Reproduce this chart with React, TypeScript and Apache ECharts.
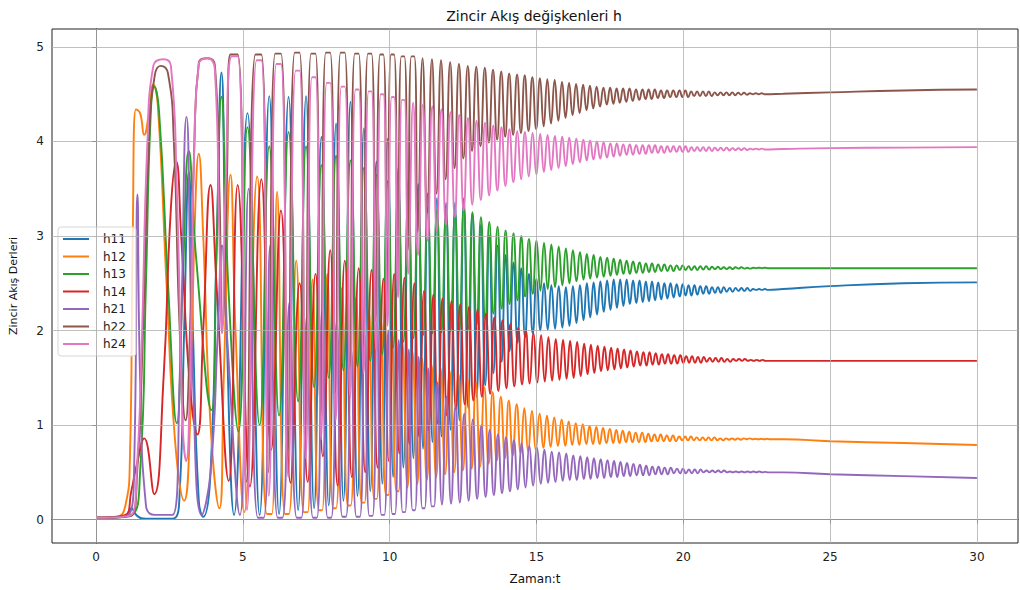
import React, { useEffect, useRef } from "react";
import * as echarts from "echarts";

const XTICKS = [0, 5, 10, 15, 20, 25, 30];
const YTICKS = [0, 1, 2, 3, 4, 5];
const NAMES = ["h11", "h12", "h13", "h14", "h21", "h22", "h24"];
const COLORS = ["#1f77b4", "#ff7f0e", "#2ca02c", "#d62728", "#9467bd", "#8c564b", "#e377c2"];

// times of the h22 oscillation peaks
const cycleT = [4.7, 5.53, 6.2, 6.85, 7.4, 7.9, 8.4, 8.88, 9.32, 9.73, 10.1, 10.45, 10.79, 11.12, 11.44, 11.75, 12.06, 12.36, 12.66, 12.95, 13.24, 13.52, 13.8, 14.07, 14.34, 14.6, 14.86, 15.12, 15.37, 15.62, 15.87, 16.11, 16.35, 16.59, 16.82, 17.05, 17.28, 17.51, 17.73, 17.95, 18.17, 18.39, 18.61, 18.82, 19.03, 19.24, 19.45, 19.66, 19.87, 20.07, 20.27, 20.47, 20.67, 20.87, 21.07, 21.27, 21.47, 21.67, 21.87, 22.07, 22.27, 22.47, 22.67, 22.87];

// start-up transients [t, value]
const h11Pre = [[0, 0.02], [1.0, 0.03], [1.2, 0.12], [1.4, 0.04], [1.7, 0.01], [2.6, 0.01], [2.85, 0.3], [3.0, 2.0], [3.16, 3.68], [3.3, 2.0], [3.5, 0.2], [3.65, 0.03], [3.9, 0.5], [4.1, 2.8], [4.27, 4.73], [4.45, 2.0], [4.7, 0.05]];
const h12Pre = [[0, 0.02], [0.7, 0.03], [1.0, 0.15], [1.15, 0.6], [1.25, 3.0], [1.36, 4.34], [1.5, 4.3], [1.64, 4.07], [1.8, 4.3], [1.95, 4.6], [2.1, 4.4], [2.4, 2.5], [2.7, 0.8], [3.0, 0.2], [3.2, 1.0], [3.35, 3.0], [3.5, 3.87], [3.65, 3.0], [3.9, 1.0], [4.2, 0.12], [4.35, 1.5], [4.58, 3.65], [4.75, 2.0], [5.05, 0.08]];
const h13Pre = [[0, 0.02], [1.2, 0.05], [1.5, 0.5], [1.7, 2.5], [1.85, 4.2], [1.98, 4.58], [2.15, 4.3], [2.45, 2.5], [2.75, 1.02], [2.95, 2.5], [3.16, 3.9], [3.4, 2.8], [3.93, 1.16], [4.1, 2.8], [4.27, 4.47], [4.5, 2.5], [4.85, 0.93]];
const h14Pre = [[0, 0.02], [1.0, 0.05], [1.2, 0.3], [1.4, 0.6], [1.64, 0.86], [1.98, 0.27], [2.3, 1.5], [2.55, 3.3], [2.73, 3.79], [2.9, 3.0], [3.2, 1.4], [3.45, 0.9], [3.65, 2.0], [3.9, 3.54], [4.1, 2.5], [4.52, 0.41]];
const h21Pre = [[0, 0.02], [1.1, 0.05], [1.3, 0.6], [1.41, 3.44], [1.5, 1.5], [1.7, 0.15], [2.0, 0.05], [2.6, 0.05], [2.85, 1.5], [3.08, 4.26], [3.3, 1.5], [3.6, 0.05], [3.9, 0.5], [4.15, 2.0], [4.29, 2.9], [4.45, 2.0], [4.9, 0.05]];
const h22Pre = [[0, 0.02], [1.2, 0.04], [1.4, 0.5], [1.6, 2.0], [1.8, 4.0], [2.0, 4.7], [2.2, 4.8], [2.45, 4.72], [2.65, 4.0], [2.85, 2.0], [3.05, 1.05], [3.2, 2.0], [3.35, 4.0], [3.5, 4.83], [3.8, 4.88], [4.05, 4.8], [4.2, 3.5], [4.3, 2.05], [4.45, 3.5]];
const h24Pre = [[0, 0.02], [1.2, 0.05], [1.4, 0.6], [1.55, 1.8], [1.75, 4.0], [1.95, 4.8], [2.3, 4.87], [2.55, 4.8], [2.75, 3.5], [2.95, 1.0], [3.07, 0.62], [3.2, 1.5], [3.35, 4.0], [3.5, 4.82], [3.8, 4.88], [4.05, 4.75], [4.2, 3.0], [4.29, 1.97], [4.42, 3.6]];

// peak / trough value of each cycle
const h11Hi = [4.3, 4.48, 4.47, 4.48, 4.05, 4.19, 4.42, 4.14, 3.79, 4.03, 3.72, 3.6, 3.55, 3.45, 3.4, 3.35, 3.35, 3.4, 3.25, 3.12, 3.0, 2.9, 2.8, 2.72, 2.66, 2.6, 2.55, 2.5, 2.48, 2.47, 2.46, 2.47, 2.48, 2.5, 2.51, 2.52, 2.53, 2.54, 2.54, 2.54, 2.53, 2.53, 2.52, 2.52, 2.51, 2.5, 2.5, 2.49, 2.49, 2.48, 2.48, 2.47, 2.47, 2.46, 2.46, 2.46, 2.45, 2.45, 2.45, 2.45, 2.44, 2.44, 2.44];
const h11Lo = [0.05, 0.06, 0.1, 0.12, 0.15, 0.2, 0.25, 0.3, 0.38, 0.45, 0.55, 0.65, 0.75, 0.82, 0.88, 0.95, 1.05, 1.18, 1.3, 1.42, 1.55, 1.67, 1.78, 1.87, 1.93, 1.97, 2.0, 2.01, 2.02, 2.03, 2.05, 2.08, 2.11, 2.14, 2.17, 2.2, 2.22, 2.24, 2.26, 2.28, 2.29, 2.3, 2.31, 2.32, 2.33, 2.34, 2.35, 2.36, 2.37, 2.37, 2.38, 2.39, 2.39, 2.4, 2.4, 2.41, 2.41, 2.42, 2.42, 2.42, 2.43, 2.43, 2.43];
const h12Hi = [3.63, 3.47, 2.74, 2.54, 2.6, 2.45, 2.35, 2.2, 2.1, 1.98, 1.88, 1.78, 1.7, 1.64, 1.6, 1.57, 1.54, 1.5, 1.45, 1.4, 1.35, 1.3, 1.26, 1.22, 1.18, 1.15, 1.12, 1.1, 1.08, 1.06, 1.04, 1.02, 1.01, 0.99, 0.98, 0.97, 0.96, 0.95, 0.94, 0.93, 0.92, 0.92, 0.91, 0.9, 0.9, 0.89, 0.89, 0.88, 0.88, 0.88, 0.87, 0.87, 0.87, 0.87, 0.86, 0.86, 0.86, 0.86, 0.86, 0.86, 0.855, 0.855, 0.855];
const h12Lo = [0.06, 0.06, 0.08, 0.1, 0.12, 0.15, 0.18, 0.22, 0.26, 0.3, 0.34, 0.38, 0.42, 0.45, 0.48, 0.5, 0.52, 0.54, 0.56, 0.59, 0.62, 0.65, 0.68, 0.7, 0.72, 0.74, 0.76, 0.77, 0.78, 0.78, 0.79, 0.79, 0.8, 0.8, 0.8, 0.81, 0.81, 0.81, 0.82, 0.82, 0.82, 0.82, 0.83, 0.83, 0.83, 0.83, 0.83, 0.84, 0.84, 0.84, 0.84, 0.84, 0.84, 0.84, 0.84, 0.845, 0.845, 0.845, 0.85, 0.85, 0.85, 0.85, 0.85];
const h13Hi = [4.15, 3.95, 4.1, 3.95, 3.75, 3.85, 3.8, 3.72, 3.65, 3.58, 3.5, 3.42, 3.35, 3.3, 3.27, 3.25, 3.25, 3.3, 3.25, 3.2, 3.15, 3.1, 3.06, 3.03, 3.0, 2.97, 2.95, 2.93, 2.91, 2.89, 2.87, 2.85, 2.83, 2.81, 2.8, 2.78, 2.77, 2.76, 2.75, 2.74, 2.73, 2.72, 2.71, 2.71, 2.7, 2.7, 2.69, 2.69, 2.69, 2.68, 2.68, 2.68, 2.68, 2.675, 2.675, 2.67, 2.67, 2.67, 2.67, 2.665, 2.665, 2.665, 2.665];
const h13Lo = [1.0, 1.1, 1.25, 1.4, 1.5, 1.58, 1.62, 1.68, 1.75, 1.82, 1.88, 1.92, 1.95, 1.97, 1.98, 1.99, 2.0, 2.02, 2.06, 2.12, 2.18, 2.23, 2.28, 2.32, 2.36, 2.39, 2.42, 2.44, 2.46, 2.48, 2.5, 2.52, 2.54, 2.55, 2.56, 2.57, 2.58, 2.59, 2.6, 2.6, 2.61, 2.61, 2.62, 2.62, 2.63, 2.63, 2.63, 2.64, 2.64, 2.64, 2.64, 2.645, 2.645, 2.65, 2.65, 2.65, 2.65, 2.655, 2.655, 2.655, 2.66, 2.66, 2.66];
const h14Hi = [3.54, 3.6, 3.27, 2.5, 2.6, 2.85, 2.74, 2.66, 2.64, 2.55, 2.6, 2.56, 2.5, 2.42, 2.38, 2.34, 2.31, 2.28, 2.25, 2.22, 2.18, 2.14, 2.11, 2.07, 2.03, 2.0, 1.97, 1.95, 1.93, 1.91, 1.9, 1.89, 1.88, 1.86, 1.85, 1.84, 1.83, 1.82, 1.81, 1.8, 1.79, 1.78, 1.77, 1.77, 1.76, 1.75, 1.75, 1.74, 1.74, 1.73, 1.73, 1.72, 1.72, 1.71, 1.71, 1.71, 1.7, 1.7, 1.7, 1.7, 1.69, 1.69, 1.69];
const h14Lo = [0.35, 0.74, 0.39, 0.4, 0.67, 0.36, 0.45, 0.5, 0.55, 0.62, 0.7, 0.8, 0.88, 0.95, 1.02, 1.1, 1.17, 1.22, 1.26, 1.3, 1.33, 1.36, 1.39, 1.41, 1.43, 1.44, 1.45, 1.46, 1.47, 1.48, 1.49, 1.5, 1.52, 1.54, 1.55, 1.57, 1.58, 1.59, 1.6, 1.61, 1.62, 1.63, 1.63, 1.64, 1.64, 1.65, 1.65, 1.65, 1.66, 1.66, 1.66, 1.66, 1.67, 1.67, 1.67, 1.67, 1.67, 1.68, 1.68, 1.68, 1.68, 1.68, 1.68];
const h21Hi = [3.5, 2.9, 2.3, 2.15, 2.2, 2.1, 1.8, 1.97, 2.1, 2.0, 1.9, 1.8, 1.72, 1.6, 1.45, 1.3, 1.2, 1.12, 1.06, 1.0, 0.95, 0.9, 0.87, 0.84, 0.81, 0.78, 0.76, 0.74, 0.72, 0.71, 0.7, 0.68, 0.67, 0.66, 0.65, 0.64, 0.63, 0.62, 0.61, 0.6, 0.59, 0.58, 0.57, 0.56, 0.56, 0.55, 0.55, 0.54, 0.54, 0.53, 0.53, 0.53, 0.52, 0.52, 0.52, 0.52, 0.51, 0.51, 0.51, 0.51, 0.51, 0.51, 0.505];
const h21Lo = [0.02, 0.02, 0.02, 0.02, 0.02, 0.03, 0.03, 0.04, 0.05, 0.06, 0.08, 0.1, 0.12, 0.14, 0.16, 0.17, 0.18, 0.2, 0.22, 0.24, 0.26, 0.28, 0.3, 0.32, 0.34, 0.36, 0.38, 0.39, 0.4, 0.41, 0.42, 0.42, 0.43, 0.43, 0.44, 0.44, 0.45, 0.45, 0.46, 0.46, 0.47, 0.47, 0.47, 0.48, 0.48, 0.48, 0.49, 0.49, 0.49, 0.49, 0.49, 0.5, 0.5, 0.5, 0.5, 0.5, 0.5, 0.5, 0.5, 0.5, 0.5, 0.5, 0.5];
const h22Hi = [4.92, 4.92, 4.93, 4.94, 4.93, 4.94, 4.94, 4.93, 4.93, 4.92, 4.92, 4.9, 4.9, 4.88, 4.87, 4.86, 4.84, 4.82, 4.8, 4.79, 4.78, 4.76, 4.74, 4.72, 4.71, 4.7, 4.68, 4.67, 4.66, 4.65, 4.63, 4.62, 4.61, 4.6, 4.59, 4.58, 4.57, 4.57, 4.56, 4.56, 4.56, 4.55, 4.55, 4.55, 4.55, 4.54, 4.54, 4.54, 4.54, 4.54, 4.53, 4.53, 4.53, 4.53, 4.52, 4.52, 4.52, 4.52, 4.515, 4.515, 4.51, 4.51, 4.51];
const h22Lo = [0.4, 0.5, 0.7, 0.9, 1.1, 1.35, 1.6, 1.85, 2.1, 2.35, 2.6, 2.85, 3.05, 3.25, 3.45, 3.6, 3.72, 3.82, 3.9, 3.95, 3.99, 4.02, 4.05, 4.07, 4.09, 4.11, 4.13, 4.16, 4.19, 4.22, 4.25, 4.28, 4.3, 4.33, 4.35, 4.37, 4.39, 4.4, 4.41, 4.42, 4.43, 4.44, 4.45, 4.45, 4.46, 4.46, 4.47, 4.47, 4.47, 4.47, 4.48, 4.48, 4.48, 4.48, 4.49, 4.49, 4.49, 4.49, 4.495, 4.495, 4.5, 4.5, 4.5];
const h24Hi = [4.9, 4.86, 4.82, 4.75, 4.68, 4.62, 4.58, 4.55, 4.53, 4.5, 4.47, 4.44, 4.41, 4.39, 4.37, 4.34, 4.31, 4.28, 4.25, 4.22, 4.2, 4.17, 4.15, 4.13, 4.11, 4.1, 4.09, 4.08, 4.07, 4.06, 4.05, 4.04, 4.03, 4.02, 4.01, 4.0, 3.99, 3.98, 3.98, 3.97, 3.97, 3.96, 3.96, 3.96, 3.96, 3.95, 3.95, 3.95, 3.95, 3.95, 3.94, 3.94, 3.94, 3.94, 3.935, 3.935, 3.935, 3.93, 3.93, 3.93, 3.925, 3.925, 3.925];
const h24Lo = [0.1, 0.25, 0.45, 0.65, 0.85, 1.05, 1.3, 1.55, 1.8, 2.05, 2.35, 2.6, 2.8, 2.95, 3.05, 3.12, 3.2, 3.27, 3.33, 3.38, 3.43, 3.48, 3.53, 3.57, 3.6, 3.63, 3.65, 3.68, 3.7, 3.72, 3.74, 3.76, 3.78, 3.8, 3.81, 3.82, 3.83, 3.84, 3.85, 3.86, 3.86, 3.87, 3.87, 3.88, 3.88, 3.88, 3.89, 3.89, 3.89, 3.89, 3.9, 3.9, 3.9, 3.9, 3.905, 3.905, 3.905, 3.91, 3.91, 3.91, 3.915, 3.915, 3.915];

// slow drift after the oscillation dies out [t, value]
const h11Tail = [[23.4, 2.44], [25, 2.47], [27.5, 2.5], [30, 2.51]];
const h12Tail = [[23.4, 0.85], [25, 0.83], [27.5, 0.81], [30, 0.79]];
const h13Tail = [[23.4, 2.66], [25, 2.66], [30, 2.66]];
const h14Tail = [[23.4, 1.68], [25, 1.68], [30, 1.68]];
const h21Tail = [[23.4, 0.5], [25, 0.48], [27.5, 0.46], [30, 0.44]];
const h22Tail = [[23.4, 4.505], [25, 4.52], [27.5, 4.54], [30, 4.55]];
const h24Tail = [[23.4, 3.92], [25, 3.93], [27.5, 3.935], [30, 3.94]];

// where in each cycle the series peaks (fraction of the cycle)
const PHASES = [0.55, 0.95, 0.55, 0.15, 0.6, 0, 0.03];
// half-width (fraction of the cycle) of the broad tops / broad bottoms seen in the early cycles, and up to which cycle
const TOP_W = [0, 0, 0, 0, 0, 0.15, 0.12];
const BOT_W = [0, 0.1, 0, 0, 0.12, 0, 0];
const WIDE_UNTIL = [0, 10, 0, 0, 14, 13, 12];

const PRES = [h11Pre, h12Pre, h13Pre, h14Pre, h21Pre, h22Pre, h24Pre];
const HIS = [h11Hi, h12Hi, h13Hi, h14Hi, h21Hi, h22Hi, h24Hi];
const LOS = [h11Lo, h12Lo, h13Lo, h14Lo, h21Lo, h22Lo, h24Lo];
const TAILS = [h11Tail, h12Tail, h13Tail, h14Tail, h21Tail, h22Tail, h24Tail];

function buildSeries(k: number) {
  const pre = PRES[k], hi = HIS[k], lo = LOS[k], tail = TAILS[k];
  const phase = PHASES[k];
  const pts: number[][] = pre.map((p) => [p[0], p[1]]);
  const n = Math.min(hi.length, lo.length, cycleT.length - 1);
  for (let i = 0; i < n; i++) {
    const P = cycleT[i + 1] - cycleT[i];
    const wide = i < WIDE_UNTIL[k];
    const tw = wide ? TOP_W[k] : 0;
    const bw = wide ? BOT_W[k] : 0;
    if (tw > 0) {
      pts.push([cycleT[i] + (phase - tw) * P, hi[i]]);
      pts.push([cycleT[i] + (phase + tw) * P, hi[i]]);
    } else {
      pts.push([cycleT[i] + phase * P, hi[i]]);
    }
    if (bw > 0) {
      pts.push([cycleT[i] + (phase + 0.5 - bw) * P, lo[i]]);
      pts.push([cycleT[i] + (phase + 0.5 + bw) * P, lo[i]]);
    } else {
      pts.push([cycleT[i] + (phase + 0.5) * P, lo[i]]);
    }
  }
  tail.forEach((p) => pts.push([p[0], p[1]]));
  return pts;
}

const FONT = "DejaVu Sans";

export default function App() {
  const ref = useRef<HTMLDivElement>(null);
  useEffect(() => {
    document.body.style.margin = "0";
    if (!ref.current) return;
    const chart = echarts.init(ref.current, null, { renderer: "svg" });
    const lineSeries = NAMES.map((name, k) => ({
      name,
      type: "line",
      data: buildSeries(k),
      showSymbol: false,
      symbol: "none",
      smooth: 0.5,
      silent: true,
      lineStyle: { width: 1.9, color: COLORS[k] },
      itemStyle: { color: COLORS[k] },
      emphasis: { disabled: true },
      z: 3,
    }));
    const gridSeries = {
      name: "_grid",
      type: "line",
      data: [],
      silent: true,
      z: 1,
      markLine: {
        silent: true,
        symbol: ["none", "none"],
        label: { show: false },
        emphasis: { disabled: true },
        lineStyle: { color: "#b0b0b0", width: 0.8, type: "solid" },
        data: [
          ...XTICKS.map((v) => ({ xAxis: v })),
          ...YTICKS.map((v) => ({ yAxis: v })),
        ],
      },
    };
    chart.setOption({
      animation: false,
      backgroundColor: "#ffffff",
      grid: { left: 50, right: 2, top: 29, bottom: 42, show: true, borderColor: "#222", borderWidth: 1, backgroundColor: "transparent" },
      graphic: [
        {
          type: "text",
          x: 534,
          y: 16,
          style: { text: "Zincir Akış değişkenleri h", font: `14px "${FONT}"`, fill: "#111", textAlign: "center", textVerticalAlign: "middle" },
        },
      ],
      legend: {
        data: NAMES,
        orient: "vertical",
        left: 58,
        top: 227,
        icon: "rect",
        itemWidth: 26,
        itemHeight: 2,
        itemGap: 3.5,
        selectedMode: false,
        padding: [5, 10, 5, 5],
        borderColor: "#d6d6d6",
        borderWidth: 1,
        borderRadius: 3,
        backgroundColor: "rgba(255,255,255,0.8)",
        textStyle: { fontFamily: FONT, fontSize: 12, color: "#222", lineHeight: 14, padding: [0, 0, 0, 9] },
      },
      xAxis: {
        type: "value",
        min: -1.5,
        max: 31.4,
        splitLine: { show: false },
        axisLine: { show: true, lineStyle: { color: "#222", width: 1 } },
        axisTick: { show: true, customValues: XTICKS, length: 4, lineStyle: { color: "#222" } },
        axisLabel: { customValues: XTICKS, margin: 8, fontFamily: FONT, fontSize: 12, color: "#222" },
        name: "Zaman:t",
        nameLocation: "middle",
        nameGap: 30,
        nameTextStyle: { fontFamily: FONT, fontSize: 12, color: "#111" },
      },
      yAxis: {
        type: "value",
        min: -0.247,
        max: 5.19,
        splitLine: { show: false },
        axisLine: { show: true, lineStyle: { color: "#222", width: 1 } },
        axisTick: { show: true, customValues: YTICKS, length: 4, lineStyle: { color: "#222" } },
        axisLabel: { customValues: YTICKS, margin: 8, fontFamily: FONT, fontSize: 12, color: "#222" },
        name: "Zincir Akış Derleri",
        nameLocation: "middle",
        nameGap: 33,
        nameTextStyle: { fontFamily: FONT, fontSize: 11, color: "#111" },
      },
      series: [gridSeries, ...lineSeries],
    });
    return () => chart.dispose();
  }, []);
  return <div ref={ref} style={{ width: 1020, height: 590 }} />;
}
